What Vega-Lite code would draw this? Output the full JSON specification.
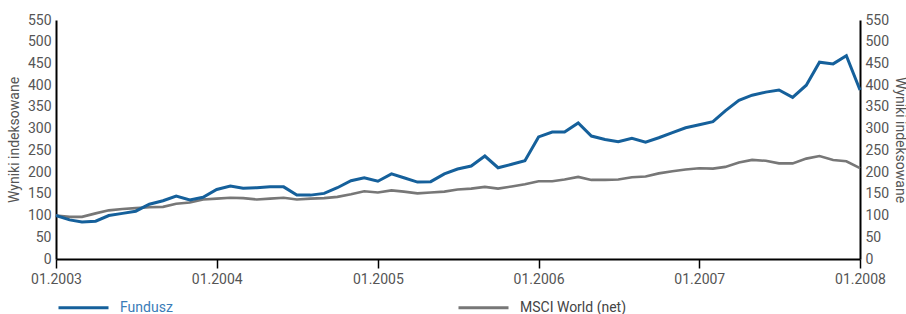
{
  "$schema": "https://vega.github.io/schema/vega-lite/v6.json",
  "width": 804,
  "height": 239,
  "autosize": "none",
  "padding": {"left": 56, "top": 20, "right": 46, "bottom": 55},
  "background": "white",
  "config": {
    "view": {"stroke": null},
    "font": "Roboto",
    "axis": {"labelFont": "Roboto", "titleFont": "Roboto", "labelColor": "#555555", "titleColor": "#555555", "labelFontSize": 14, "titleFontSize": 14, "titleFontWeight": "normal", "grid": false, "domainColor": "#000000", "domainWidth": 2, "tickColor": "#000000"}
  },
  "datasets": {
    "fund": [
      {"date": "2003-01-01", "value": 100}, {"date": "2003-02-01", "value": 90}, {"date": "2003-03-01", "value": 85}, {"date": "2003-04-01", "value": 87}, {"date": "2003-05-01", "value": 100}, {"date": "2003-06-01", "value": 105}, {"date": "2003-07-01", "value": 110}, {"date": "2003-08-01", "value": 126}, {"date": "2003-09-01", "value": 134}, {"date": "2003-10-01", "value": 145}, {"date": "2003-11-01", "value": 136}, {"date": "2003-12-01", "value": 142},
      {"date": "2004-01-01", "value": 160}, {"date": "2004-02-01", "value": 168}, {"date": "2004-03-01", "value": 163}, {"date": "2004-04-01", "value": 164}, {"date": "2004-05-01", "value": 166}, {"date": "2004-06-01", "value": 166}, {"date": "2004-07-01", "value": 147}, {"date": "2004-08-01", "value": 147}, {"date": "2004-09-01", "value": 151}, {"date": "2004-10-01", "value": 164}, {"date": "2004-11-01", "value": 180}, {"date": "2004-12-01", "value": 187},
      {"date": "2005-01-01", "value": 179}, {"date": "2005-02-01", "value": 196}, {"date": "2005-03-01", "value": 187}, {"date": "2005-04-01", "value": 177}, {"date": "2005-05-01", "value": 178}, {"date": "2005-06-01", "value": 196}, {"date": "2005-07-01", "value": 207}, {"date": "2005-08-01", "value": 214}, {"date": "2005-09-01", "value": 237}, {"date": "2005-10-01", "value": 210}, {"date": "2005-11-01", "value": 218}, {"date": "2005-12-01", "value": 226},
      {"date": "2006-01-01", "value": 281}, {"date": "2006-02-01", "value": 292}, {"date": "2006-03-01", "value": 292}, {"date": "2006-04-01", "value": 313}, {"date": "2006-05-01", "value": 283}, {"date": "2006-06-01", "value": 275}, {"date": "2006-07-01", "value": 270}, {"date": "2006-08-01", "value": 278}, {"date": "2006-09-01", "value": 269}, {"date": "2006-10-01", "value": 279}, {"date": "2006-11-01", "value": 291}, {"date": "2006-12-01", "value": 302},
      {"date": "2007-01-01", "value": 309}, {"date": "2007-02-01", "value": 316}, {"date": "2007-03-01", "value": 341}, {"date": "2007-04-01", "value": 365}, {"date": "2007-05-01", "value": 377}, {"date": "2007-06-01", "value": 384}, {"date": "2007-07-01", "value": 389}, {"date": "2007-08-01", "value": 372}, {"date": "2007-09-01", "value": 400}, {"date": "2007-10-01", "value": 453}, {"date": "2007-11-01", "value": 449}, {"date": "2007-12-01", "value": 468},
      {"date": "2008-01-01", "value": 389}
    ],
    "msci": [
      {"date": "2003-01-01", "value": 100}, {"date": "2003-02-01", "value": 97}, {"date": "2003-03-01", "value": 97}, {"date": "2003-04-01", "value": 105}, {"date": "2003-05-01", "value": 112}, {"date": "2003-06-01", "value": 115}, {"date": "2003-07-01", "value": 117}, {"date": "2003-08-01", "value": 119}, {"date": "2003-09-01", "value": 120}, {"date": "2003-10-01", "value": 127}, {"date": "2003-11-01", "value": 130}, {"date": "2003-12-01", "value": 137},
      {"date": "2004-01-01", "value": 139}, {"date": "2004-02-01", "value": 141}, {"date": "2004-03-01", "value": 140}, {"date": "2004-04-01", "value": 137}, {"date": "2004-05-01", "value": 139}, {"date": "2004-06-01", "value": 141}, {"date": "2004-07-01", "value": 137}, {"date": "2004-08-01", "value": 139}, {"date": "2004-09-01", "value": 140}, {"date": "2004-10-01", "value": 143}, {"date": "2004-11-01", "value": 149}, {"date": "2004-12-01", "value": 156},
      {"date": "2005-01-01", "value": 153}, {"date": "2005-02-01", "value": 158}, {"date": "2005-03-01", "value": 155}, {"date": "2005-04-01", "value": 151}, {"date": "2005-05-01", "value": 153}, {"date": "2005-06-01", "value": 155}, {"date": "2005-07-01", "value": 160}, {"date": "2005-08-01", "value": 162}, {"date": "2005-09-01", "value": 166}, {"date": "2005-10-01", "value": 162}, {"date": "2005-11-01", "value": 167}, {"date": "2005-12-01", "value": 172},
      {"date": "2006-01-01", "value": 179}, {"date": "2006-02-01", "value": 179}, {"date": "2006-03-01", "value": 183}, {"date": "2006-04-01", "value": 189}, {"date": "2006-05-01", "value": 182}, {"date": "2006-06-01", "value": 182}, {"date": "2006-07-01", "value": 183}, {"date": "2006-08-01", "value": 188}, {"date": "2006-09-01", "value": 190}, {"date": "2006-10-01", "value": 197}, {"date": "2006-11-01", "value": 202}, {"date": "2006-12-01", "value": 206},
      {"date": "2007-01-01", "value": 209}, {"date": "2007-02-01", "value": 208}, {"date": "2007-03-01", "value": 212}, {"date": "2007-04-01", "value": 222}, {"date": "2007-05-01", "value": 228}, {"date": "2007-06-01", "value": 226}, {"date": "2007-07-01", "value": 220}, {"date": "2007-08-01", "value": 220}, {"date": "2007-09-01", "value": 231}, {"date": "2007-10-01", "value": 237}, {"date": "2007-11-01", "value": 228}, {"date": "2007-12-01", "value": 225},
      {"date": "2008-01-01", "value": 209}
    ]
  },
  "encoding": {
    "x": {
      "field": "date", "type": "temporal",
      "scale": {"type": "utc", "domain": [{"year": 2003, "month": 1, "date": 1, "utc": true}, {"year": 2008, "month": 1, "date": 1, "utc": true}], "nice": false},
      "axis": {"title": null, "labelExpr": "utcFormat(datum.value, '%m.%Y')", "tickCount": {"interval": "year", "step": 1}, "tickSize": 9, "tickWidth": 1.5, "labelPadding": 4, "labelFlush": false, "labelOverlap": false}
    }
  },
  "layer": [
    {
      "data": {"name": "msci"},
      "transform": [{"calculate": "'MSCI World (net)'", "as": "series"}],
      "mark": {"type": "line", "strokeWidth": 2.6, "interpolate": "linear"},
      "encoding": {
        "y": {"field": "value", "type": "quantitative", "scale": {"domain": [0, 550], "nice": false},
          "axis": {"title": "Wyniki indeksowane", "orient": "left", "values": [0, 50, 100, 150, 200, 250, 300, 350, 400, 450, 500, 550], "ticks": false, "labelPadding": 5, "titlePadding": 6}},
        "color": {"field": "series", "type": "nominal", "scale": {"domain": ["Fundusz", "MSCI World (net)"], "range": ["#15609b", "#777777"]},
          "legend": {"title": null, "orient": "none", "legendX": 1, "legendY": 261, "direction": "horizontal", "symbolType": "stroke", "symbolSize": 2500, "symbolStrokeWidth": 3, "labelOffset": 10, "labelFont": "Roboto", "labelFontSize": 14, "columnPadding": 279,
            "encode": {"labels": {"update": {"fill": {"signal": "datum.value === 'Fundusz' ? '#3a7cb8' : '#444444'"}}}}}}
      }
    },
    {
      "data": {"name": "fund"},
      "transform": [{"calculate": "'Fundusz'", "as": "series"}],
      "mark": {"type": "line", "strokeWidth": 3, "interpolate": "linear"},
      "encoding": {
        "y": {"field": "value", "type": "quantitative", "scale": {"domain": [0, 550], "nice": false},
          "axis": {"title": "Wyniki indeksowane", "orient": "right", "values": [0, 50, 100, 150, 200, 250, 300, 350, 400, 450, 500, 550], "ticks": false, "labelPadding": 5, "titlePadding": 4}},
        "color": {"field": "series", "type": "nominal"}
      }
    }
  ],
  "resolve": {"scale": {"y": "independent"}, "axis": {"y": "independent"}}
}
